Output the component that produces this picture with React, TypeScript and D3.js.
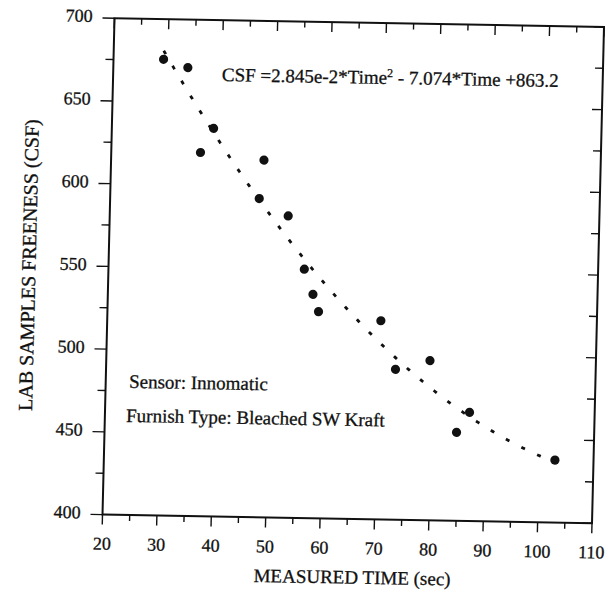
import React from "react";
import * as d3 from "d3";

const TIME = [29.2, 33.7, 36.4, 38.7, 48.1, 47.4, 52.8, 56.0, 57.7, 58.8, 70.3, 73.2, 79.5, 87.0, 84.7, 102.9];
const CSF = [675.7, 670.9, 619.8, 634.5, 615.9, 592.6, 582.4, 550.4, 535.3, 524.9, 520.1, 490.9, 496.5, 465.7, 453.5, 437.8];

// Printed regression: CSF = a*Time^2 + b*Time + c
const FIT_COEFFS = [0.02845, -7.074, 863.2];
const FIT_RANGE = [29.2, 102.9];

const X_TICKS = [20, 30, 40, 50, 60, 70, 80, 90, 100, 110];
const X_MINOR = [25, 35, 45, 55, 65, 75, 85, 95, 105];
const Y_TICKS = [400, 450, 500, 550, 600, 650, 700];
const Y_MINOR = [425, 475, 525, 575, 625, 675];

const X_TITLE = "MEASURED TIME (sec)";
const Y_TITLE = "LAB SAMPLES FREENESS (CSF)";
const NOTES = ["Sensor: Innomatic", "Furnish Type: Bleached SW Kraft"];

export default function App() {
  const W = 489.5;
  const H = 496.4;
  const FONT = "'Liberation Serif', 'Times New Roman', serif";
  const ink = "#111";

  const x = d3.scaleLinear().domain([20, 110]).range([0, W]);
  const y = d3.scaleLinear().domain([400, 700]).range([H, 0]);

  const [a, b, c] = FIT_COEFFS;
  const fitPts: [number, number][] = d3
    .range(FIT_RANGE[0], FIT_RANGE[1] + 0.001, 0.25)
    .map((t) => [t, a * t * t + b * t + c]);
  const line = d3
    .line<[number, number]>()
    .x((d) => x(d[0]))
    .y((d) => y(d[1]))
    .curve(d3.curveLinear);

  const textInk = { fill: ink, stroke: ink, strokeWidth: 0.3 };

  return (
    <svg
      width={615}
      height={593}
      style={{ position: "absolute", left: 0, top: 0, background: "#fff" }}
    >
      <rect width={615} height={593} fill="#fff" />
      <g transform="matrix(1 0.01777 -0.02417 1 114.5 18.2)" fontFamily={FONT} fill={ink}>
        {/* frame */}
        <rect x={0} y={0} width={W} height={H} fill="none" stroke={ink} strokeWidth={2} />

        {/* left ticks (outward) */}
        {Y_TICKS.map((v) => (
          <line key={"ly" + v} x1={-12} x2={0} y1={y(v)} y2={y(v)} stroke={ink} strokeWidth={1.4} />
        ))}
        {Y_MINOR.map((v) => (
          <line key={"lym" + v} x1={-8} x2={0} y1={y(v)} y2={y(v)} stroke={ink} strokeWidth={1.4} />
        ))}
        {/* right ticks (inward) */}
        {Y_TICKS.map((v) => (
          <line key={"ry" + v} x1={W - 10} x2={W} y1={y(v)} y2={y(v)} stroke={ink} strokeWidth={1.4} />
        ))}
        {Y_MINOR.map((v) => (
          <line key={"rym" + v} x1={W - 8} x2={W} y1={y(v)} y2={y(v)} stroke={ink} strokeWidth={1.4} />
        ))}
        {/* bottom ticks (outward) */}
        {X_TICKS.map((v) => (
          <line key={"bx" + v} x1={x(v)} x2={x(v)} y1={H} y2={H + 10} stroke={ink} strokeWidth={1.4} />
        ))}
        {X_MINOR.map((v) => (
          <line key={"bxm" + v} x1={x(v)} x2={x(v)} y1={H} y2={H + 6} stroke={ink} strokeWidth={1.4} />
        ))}
        {/* top ticks (inward) */}
        {X_TICKS.map((v) => (
          <line key={"tx" + v} x1={x(v)} x2={x(v)} y1={0} y2={10} stroke={ink} strokeWidth={1.4} />
        ))}
        {X_MINOR.map((v) => (
          <line key={"txm" + v} x1={x(v)} x2={x(v)} y1={0} y2={6} stroke={ink} strokeWidth={1.4} />
        ))}

        {/* tick labels */}
        {Y_TICKS.map((v) => (
          <text key={"yl" + v} x={-22} y={y(v) - 2} dy="0.34em" textAnchor="end" fontSize={18} {...textInk}>
            {v}
          </text>
        ))}
        {X_TICKS.map((v) => (
          <text key={"xl" + v} x={x(v)} y={H + 35} textAnchor="middle" fontSize={18} {...textInk}>
            {v}
          </text>
        ))}

        {/* axis titles */}
        <text x={251} y={561} textAnchor="middle" fontSize={19} {...textInk}>
          {X_TITLE}
        </text>
        <text
          transform={`translate(-73, ${H / 2}) rotate(-90)`}
          textAnchor="middle"
          fontSize={20}
          {...textInk}
        >
          {Y_TITLE}
        </text>

        {/* fitted curve */}
        <path
          d={line(fitPts) || ""}
          fill="none"
          stroke={ink}
          strokeWidth={2.8}
          strokeDasharray="4 13.5"
        />

        {/* data points */}
        {TIME.map((t, i) => (
          <circle key={"p" + i} cx={x(t)} cy={y(CSF[i])} r={4.6} fill={ink} />
        ))}

        {/* equation */}
        <text x={108.7} y={60.9} fontSize={19} {...textInk}>
          CSF =2.845e-2*Time
          <tspan dy={-7} fontSize={12}>2</tspan>
          <tspan dy={7}> - 7.074*Time +863.2</tspan>
        </text>

        {/* notes */}
        <text x={23.4} y={369.2} fontSize={19} {...textInk}>
          {NOTES[0]}
        </text>
        <text x={21.3} y={403.3} fontSize={19} {...textInk}>
          {NOTES[1]}
        </text>
      </g>
    </svg>
  );
}
